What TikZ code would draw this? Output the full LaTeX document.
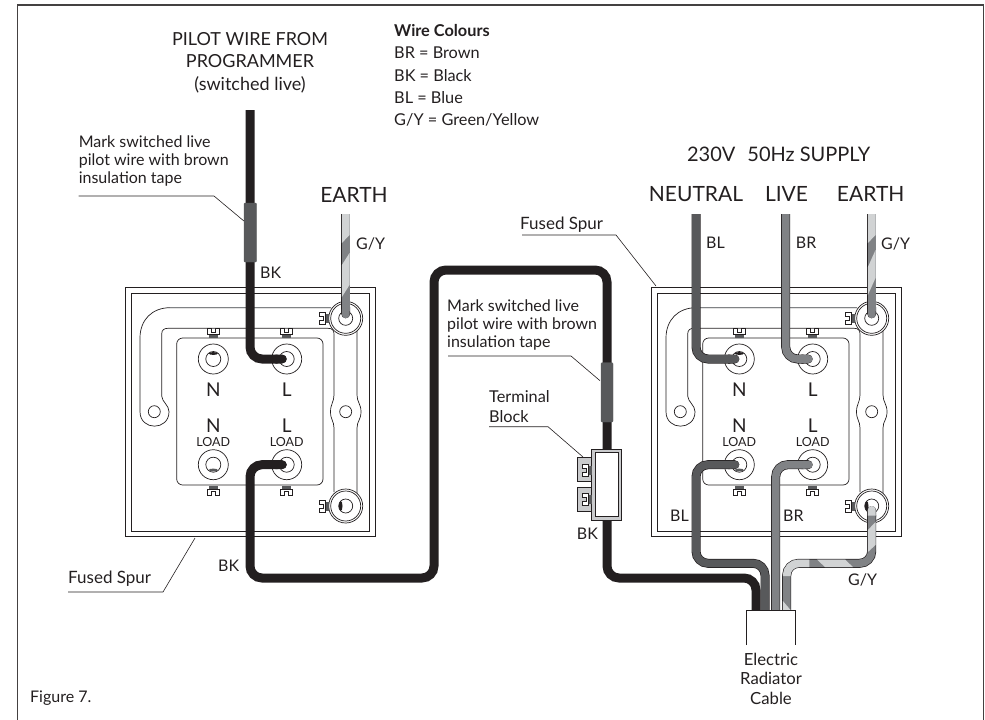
\documentclass[tikz,border=0pt]{standalone}
\usepackage{fontspec}
\setmainfont{Lato}
\usetikzlibrary{arrows.meta}
\definecolor{wireBK}{HTML}{231F20}
\definecolor{wireBL}{HTML}{58595B}
\definecolor{wireBR}{HTML}{808285}
\definecolor{wireGY}{HTML}{D1D3D4}
\definecolor{blockgray}{HTML}{C9CACC}
\tikzset{
  plate/.style={draw=wireBK,line width=0.7pt},
  wire/.style={line width=7.6pt,rounded corners=12pt,-{Round Cap[]},preaction={draw=wireBK,line width=9pt}},
  stripe/.style={fill=wireGY},
  sleeve/.style={fill=wireBL,draw=wireBL,rounded corners=1pt},
  leader/.style={draw=wireBK,line width=0.6pt},
  txt/.style={inner sep=0pt,text=wireBK,font=\fontsize{16}{18}\selectfont},
  spurtxt/.style={inner sep=0pt,text=wireBK,font=\fontsize{17}{18}\selectfont},
  big/.style={inner sep=0pt,text=wireBK,font=\fontsize{21}{22.5}\selectfont},
  termtxt/.style={inner sep=0pt,text=wireBK,font=\fontsize{19}{19}\selectfont},
  loadtxt/.style={inner sep=0pt,text=wireBK,font=\fontsize{12.5}{13}\selectfont},
  pics/screwtab/.style={code={
    \fill[wireBL] (-4.5,-5) rectangle (4.5,-1.5);
    \draw[plate,fill=white,line width=0.6pt] (-6,4.5) -- (-6,-1.5) -- (6,-1.5) -- (6,4.5) -- (2,4.5) -- (2,1) -- (-2,1) -- (-2,4.5) -- cycle;
  }},
  pics/fusedspur/.style={code={
    \draw[plate] (125.5,287.3) rectangle (375,536.7);
    \draw[plate] (131,293) rectangle (369.3,531);
    \draw[plate] (331,307.7) -- (170,307.7) .. controls (152,307.7) and (140,320) .. (140,338) -- (140,411.7)
      .. controls (140,431) and (169,431) .. (169,411.7) .. controls (169,405) and (162,402) .. (161.7,396)
      -- (161.7,334) .. controls (161.7,330) and (164,328.3) .. (168,328.3) -- (328,328.3)
      .. controls (332,328.3) and (334,330) .. (334,334) -- (334,395)
      .. controls (334,402) and (330.5,404) .. (330.5,411.7) .. controls (330.5,420) and (334,421) .. (334,428) -- (334,492);
    \draw[draw=wireBR,line width=1.3pt] (170,307.7) -- (331,307.7);
    \draw[plate] (357,330) -- (357,395) .. controls (357,402) and (361,404) .. (361,411.7)
      .. controls (361,420) and (357,421) .. (357,428) -- (357,494);
    \draw[plate,rounded corners=6pt] (176.7,338) rectangle (323,485);
    \draw[plate] (154.3,411.7) circle[radius=6];
    \draw[plate] (345.7,411.7) circle[radius=6];
    \coordinate (-tN) at (213.3,359);
    \coordinate (-tL) at (286.7,359);
    \coordinate (-bN) at (213.3,464.7);
    \coordinate (-bL) at (286.7,464.7);
    \coordinate (-eT) at (345.7,318.3);
    \coordinate (-eB) at (345.7,506);
    \foreach \a in {-tN,-tL,-bN,-bL}{
      \draw[plate,fill=white] (\a) circle[radius=15];
      \draw[plate] (\a) circle[radius=7.5];
    }
    \fill[wireBK] (213.3,353.5) ellipse[x radius=4.5,y radius=1.4];
    \fill[wireBL] (213.3,470) ellipse[x radius=4.5,y radius=1.4];
    \foreach \a in {-eT,-eB}{
      \draw[plate,fill=white] (\a) circle[radius=17];
      \draw[plate] (\a) circle[radius=15];
      \draw[plate] (\a) circle[radius=7];
    }
    \fill[wireBK] (340.7,506) ellipse[x radius=1.8,y radius=5];
    \foreach \x in {213.3,286.7}{
      \pic[rotate=180] at (\x,333) {screwtab};
      \pic at (\x,490.5) {screwtab};
    }
    \pic[rotate=-90] at (324,318.3) {screwtab};
    \pic[rotate=-90] at (324,506) {screwtab};
    \node[termtxt] (-lN) at (213.3,390) {N};
    \node[termtxt] (-lL) at (286.7,390) {L};
    \node[termtxt] (-lN2) at (213.3,426) {N};
    \node[termtxt] (-lL2) at (286.7,426) {L};
    \node[loadtxt] (-lo1) at (213.3,442.5) {LOAD};
    \node[loadtxt] (-lo2) at (286.7,442.5) {LOAD};
  }}
}
\begin{document}
\begin{tikzpicture}[x=1pt,y=-1pt]
  \useasboundingbox (0,0) rectangle (985,720);
  \draw[draw=wireBK!85,line width=1.3pt] (17.3,720) -- (17.3,5) -- (983.5,5) -- (983.5,720);
  \pic (lp) at (0,0) {fusedspur};
  \pic (rp) at (526,0) {fusedspur};
  \coordinate (pilottop) at (250,110);
  \coordinate (leftearth) at (345.7,214);
  \coordinate (neutraltop) at (696,214);
  \coordinate (livetop) at (785.7,214);
  \coordinate (rightearth) at (871.7,214);
  \coordinate (cableBK) at (756,612);
  \coordinate (cableBL) at (765,612);
  \coordinate (cableBR) at (775.7,612);
  \coordinate (cableGY) at (786.7,612);
  \draw[wire,draw=wireBK] (pilottop) |- (lp-tL);
  \draw[wire,draw=wireBR] (leftearth) -- (lp-eT);
  \draw[wire,draw=wireBL] (neutraltop) |- (rp-tN);
  \draw[wire,draw=wireBR] (livetop) |- (rp-tL);
  \draw[wire,draw=wireBR] (rightearth) -- (rp-eT);
  \draw[wire,draw=wireBK] (cableBK) |- (607,578) |- (434,270) |- (250,578) |- (lp-bL);
  \draw[wire,draw=wireBL] (cableBL) |- (696,563.3) |- (rp-bN);
  \draw[wire,draw=wireBR] (cableBR) |- (rp-bL);
  \draw[wire,draw=wireBR,postaction={draw=wireGY,dash pattern=on 0pt off 36pt on 30pt off 200pt}] (cableGY) |- (871.7,563.3) -- (rp-eB);
  \fill[stripe] (341.9,214) -- (349.5,214) -- (349.5,235) -- (341.9,243) -- cycle;
  \fill[stripe] (341.9,265) -- (349.5,253) -- (349.5,285) -- (341.9,297) -- cycle;
  \fill[stripe] (867.9,214) -- (875.5,214) -- (875.5,235) -- (867.9,243) -- cycle;
  \fill[stripe] (867.9,267) -- (875.5,250) -- (875.5,278) -- (867.9,295) -- cycle;
  \fill[stripe] (817,559.5) -- (845,559.5) -- (853,567.1) -- (825,567.1) -- cycle;
  \fill[stripe] (867.9,530) -- (875.5,522) -- (875.5,545) -- (867.9,552) -- cycle;
  \fill[stripe] (782.9,601) -- (790.5,610) -- (782.9,610) -- cycle;
  \draw[sleeve] (244,203) rectangle (256.5,262);
  \draw[sleeve] (601,362.7) rectangle (613,422);
  \draw[plate,fill=blockgray] (577.3,457.7) rectangle (592,481.7);
  \draw[plate,fill=blockgray] (577.3,487.3) rectangle (592,511.7);
  \draw[plate,fill=blockgray] (591.7,449) rectangle (621.7,520);
  \draw[plate,fill=white] (595,452) rectangle (618,516.7);
  \pic[rotate=-90] at (587,470) {screwtab};
  \pic[rotate=-90] at (587,499.5) {screwtab};
  \draw[plate,fill=white] (746,645) -- (746,610) -- (795,610) -- (795,645);
  \draw[leader] (78.6,196) -- (214,196) -- (243.9,221);
  \draw[leader] (448,356) -- (571,356) -- (600,380.7);
  \draw[leader] (522,235) -- (616,235) -- (656,286);
  \draw[leader] (68,592) -- (163,592) -- (195,538);
  \draw[leader] (489,426.7) -- (548,426.7) -- (583,457);
  \node[big,align=center,font=\fontsize{18}{22.5}\selectfont] (pilot) at (250,62.5) {PILOT WIRE FROM\\PROGRAMMER\\(switched live)};
  \node[txt,anchor=west,align=left,font=\fontsize{16.3}{22.2}\selectfont] (colours) at (394,75.5) {\textbf{Wire Colours}\\BR = Brown\\BK = Black\\BL = Blue\\G/Y = Green/Yellow};
  \node[txt,anchor=west,align=left] (markl) at (78.6,161) {Mark switched live\\pilot wire with brown\\insulation tape};
  \node[txt,anchor=west,align=left] (markr) at (447,325) {Mark switched live\\pilot wire with brown\\insulation tape};
  \node[txt,anchor=west,align=left,font=\fontsize{16.3}{19.3}\selectfont] (termb) at (489,406.5) {Terminal\\Block};
  \node[spurtxt,anchor=west] (spurr) at (520,225) {Fused Spur};
  \node[spurtxt,anchor=west] (spurl) at (68,579) {Fused Spur};
  \node[txt,anchor=west] (bk1) at (260,273) {BK};
  \node[txt,anchor=west] (bk2) at (218,566) {BK};
  \node[txt,anchor=west] (bk3) at (576.7,534) {BK};
  \node[txt,anchor=west] (gy1) at (356,244) {G/Y};
  \node[txt,anchor=west] (gy2) at (881,244) {G/Y};
  \node[txt,anchor=west] (gy3) at (848,580) {G/Y};
  \node[txt,anchor=west] (bl1) at (706,242.7) {BL};
  \node[txt,anchor=west] (br1) at (795.7,242.7) {BR};
  \node[txt,anchor=west] (bl2) at (670,515.7) {BL};
  \node[txt,anchor=west] (br2) at (783,515.7) {BR};
  \node[big] (earthl) at (354,195) {EARTH};
  \node[big,font=\fontsize{20}{22}\selectfont] (supply) at (778.7,154) {230V\hspace{0.6em}50Hz SUPPLY};
  \node[big] (neutral) at (696,194) {NEUTRAL};
  \node[big] (live) at (786.5,194) {LIVE};
  \node[big] (earthr) at (870.7,194) {EARTH};
  \node[txt,align=center,font=\fontsize{16.7}{19.7}\selectfont] (cable) at (771,678.7) {Electric\\Radiator\\Cable};
  \node[txt,anchor=west] (fig) at (30,697.7) {Figure 7.};
\end{tikzpicture}
\end{document}
